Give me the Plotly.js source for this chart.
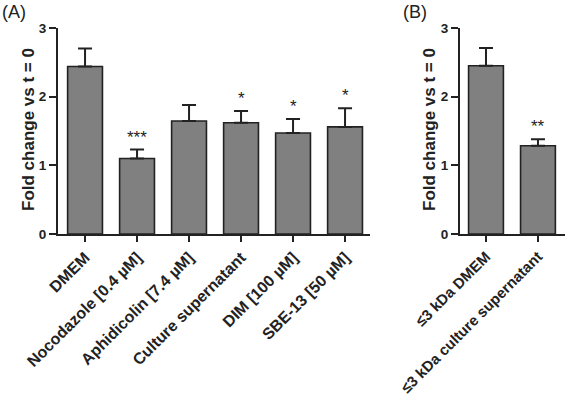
<!DOCTYPE html>
<html><head><meta charset="utf-8">
<script src="https://cdn.plot.ly/plotly-3.0.1.min.js"></script>
<style>html,body{margin:0;padding:0;background:#fff}#chart{width:567px;height:402px}</style>
</head><body><div id="chart"></div>
<script>
const catsA = ['DMEM','Nocodazole [0.4 µM]','Aphidicolin [7.4 µM]','Culture supernatant','DIM [100 µM]','SBE-13 [50 µM]'];
const meansA = [2.44, 1.10, 1.645, 1.62, 1.47, 1.56];
const errA = [0.26, 0.13, 0.235, 0.17, 0.205, 0.27];
const starsA = ['', '***', '', '*', '*', '*'];
const catsB = ['≤3 kDa DMEM', '≤3 kDa culture supernatant'];
const meansB = [2.45, 1.285];
const errB = [0.26, 0.095];
const starsB = ['', '**'];
const yTicks = [0, 1, 2, 3];

const W = 567, H = 402;
const font = 'Liberation Sans, Arial, sans-serif';
const dark = '#222222';
const fill = '#808080';

function barTrace(cats, means, errs, xa, ya) {
  return {
    type: 'bar', x: cats, y: means, xaxis: xa, yaxis: ya, width: 0.67,
    marker: {color: fill, line: {color: dark, width: 1.6}},
    error_y: {type: 'data', array: errs, arrayminus: errs.map(() => 0), symmetric: false,
      color: dark, thickness: 2, width: 7},
    hoverinfo: 'none', showlegend: false
  };
}

const data = [barTrace(catsA, meansA, errA, 'x', 'y'), barTrace(catsB, meansB, errB, 'x2', 'y2')];

const axisCommon = {
  showline: true, linecolor: dark, linewidth: 2, ticks: 'outside', tickcolor: dark,
  tickwidth: 2, showgrid: false, zeroline: false, automargin: false, fixedrange: true
};
const xtf = {family: font, size: 16, color: dark, weight: 'bold'};
const xtfB = {family: font, size: 15, color: dark, weight: 'bold'};
const ytf = {family: font, size: 13.5, color: dark, weight: 'bold'};
const yDom = [(H - 234) / H, (H - 28) / H];

const annotations = [];
function addStars(cats, means, errs, stars, xref, yref) {
  cats.forEach((c, i) => {
    if (stars[i]) annotations.push({x: c, y: means[i] + errs[i], xref: xref, yref: yref,
      text: stars[i], showarrow: false, yanchor: 'bottom', yshift: 1,
      font: {family: font, size: 17, color: dark}});
  });
}
addStars(catsA, meansA, errA, starsA, 'x', 'y');
addStars(catsB, meansB, errB, starsB, 'x2', 'y2');
const titleFont = {family: font, size: 17, color: dark, weight: 'bold'};
annotations.push({text: 'Fold change vs t = 0', textangle: -90, xref: 'paper', yref: 'paper',
  x: 28 / W, y: 1 - 130 / H, xanchor: 'center', yanchor: 'middle', showarrow: false, font: titleFont});
annotations.push({text: 'Fold change vs t = 0', textangle: -90, xref: 'paper', yref: 'paper',
  x: 429 / W, y: 1 - 130 / H, xanchor: 'center', yanchor: 'middle', showarrow: false, font: titleFont});
annotations.push({text: '(A)', xref: 'paper', yref: 'paper', x: 0, y: 1,
  xanchor: 'left', yanchor: 'top', showarrow: false, font: {family: font, size: 18, color: dark}});
annotations.push({text: '(B)', xref: 'paper', yref: 'paper', x: 401 / W, y: 1,
  xanchor: 'left', yanchor: 'top', showarrow: false, font: {family: font, size: 18, color: dark}});

const layout = {
  width: W, height: H, margin: {l: 0, r: 0, t: 0, b: 0},
  paper_bgcolor: '#fff', plot_bgcolor: '#fff', bargap: 0.33,
  xaxis: Object.assign({}, axisCommon, {domain: [58 / W, 370 / W], range: [-0.52, 5.48],
    type: 'category', tickangle: -45, ticklen: 6, tickfont: xtf, anchor: 'y'}),
  yaxis: Object.assign({}, axisCommon, {domain: yDom, range: [0, 3], tickvals: yTicks,
    ticklen: 7, tickfont: ytf, anchor: 'x'}),
  xaxis2: Object.assign({}, axisCommon, {domain: [460 / W, 565 / W], range: [-0.5, 1.52],
    type: 'category', tickangle: -45, ticklen: 6, tickfont: xtfB, anchor: 'y2'}),
  yaxis2: Object.assign({}, axisCommon, {domain: yDom, range: [0, 3], tickvals: yTicks,
    ticklen: 7, tickfont: ytf, anchor: 'x2'}),
  annotations: annotations
};
Plotly.newPlot('chart', data, layout, {displayModeBar: false, staticPlot: true});
</script></body></html>
